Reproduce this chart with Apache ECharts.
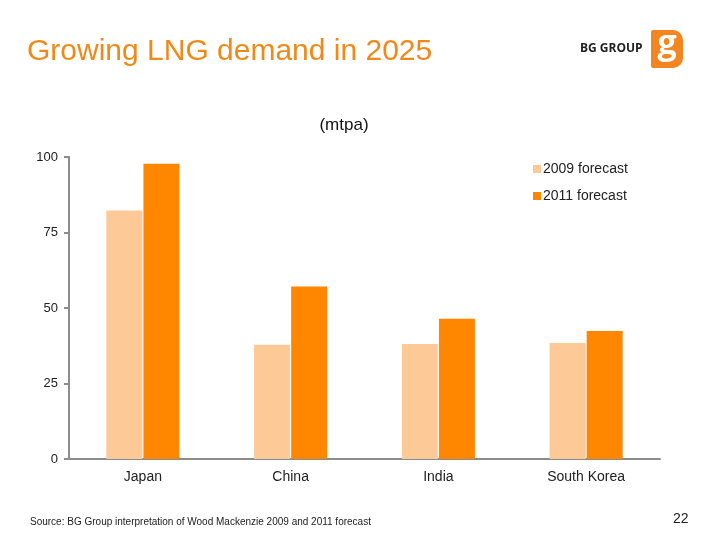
<!DOCTYPE html>
<html>
<head>
<meta charset="utf-8">
<script src="https://cdn.jsdelivr.net/npm/echarts@6/dist/echarts.min.js"></script>
<style>
html,body{margin:0;padding:0;background:#fff;}
#chart{width:720px;height:540px;}
</style>
</head>
<body>
<div id="chart"></div>
<script>
const categories = ['Japan', 'China', 'India', 'South Korea'];
const forecast2009 = [82.3, 37.8, 38.1, 38.4];
const forecast2011 = [97.8, 57.1, 46.4, 42.4];
const seriesNames = ['2009 forecast', '2011 forecast'];
const yTicks = [0, 25, 50, 75, 100];

const FONT = '"Liberation Sans", Arial, sans-serif';
const chart = echarts.init(document.getElementById('chart'));
chart.setOption({
  animation: false,
  backgroundColor: '#fff',
  textStyle: { fontFamily: FONT },
  grid: { left: 69, right: 60, top: 157, bottom: 81, containLabel: false },
  legend: {
    orient: 'vertical',
    left: 528,
    top: 157,
    itemWidth: 8,
    itemHeight: 8,
    itemGap: 13,
    icon: 'rect',
    textStyle: { fontFamily: FONT, fontSize: 14, color: '#222', padding: [0, 0, 0, -3] },
    data: seriesNames
  },
  xAxis: {
    type: 'category',
    data: categories,
    axisLine: { lineStyle: { color: '#8c8c8c', width: 2 } },
    axisTick: { show: false },
    axisLabel: { fontFamily: FONT, fontSize: 14, color: '#222', margin: 11 }
  },
  yAxis: {
    type: 'value',
    min: yTicks[0],
    max: yTicks[yTicks.length - 1],
    interval: 25,
    splitLine: { show: false },
    axisLine: { show: true, lineStyle: { color: '#8c8c8c', width: 2 } },
    axisTick: { show: true, length: 5, lineStyle: { color: '#8c8c8c', width: 2 } },
    axisLabel: { fontFamily: FONT, fontSize: 13, color: '#222', margin: 11 }
  },
  series: [
    {
      name: seriesNames[0],
      type: 'bar',
      data: forecast2009,
      barWidth: 36,
      barGap: '3%',
      itemStyle: { color: '#FDC997' }
    },
    {
      name: seriesNames[1],
      type: 'bar',
      data: forecast2011,
      barWidth: 36,
      itemStyle: { color: '#FF8700' }
    }
  ],
  graphic: [
    { type: 'text', x: 27, y: 52, style: { text: 'Growing LNG demand in 2025', font: '30px ' + FONT, fill: '#EF8A18', verticalAlign: 'middle' } },
    { type: 'text', x: 344, y: 125, style: { text: '(mtpa)', font: '17px ' + FONT, fill: '#111', align: 'center', verticalAlign: 'middle' } },
    { type: 'text', x: 580, y: 49, style: { text: 'BG GROUP', font: 'bold 12px "Open Sans", ' + FONT, fill: '#222', verticalAlign: 'middle' } },
    { type: 'rect', shape: { x: 651, y: 30, width: 32, height: 38, r: [2, 10, 10, 2] }, style: { fill: '#F5861F' } },
    { type: 'text', x: 667, y: 44, style: { text: 'g', font: 'bold 34px "Open Sans", ' + FONT, fill: '#fff', align: 'center', verticalAlign: 'middle' } },
    { type: 'text', x: 30, y: 522, style: { text: 'Source: BG Group interpretation of Wood Mackenzie 2009 and 2011 forecast', font: '10px ' + FONT, fill: '#222', verticalAlign: 'middle' } },
    { type: 'text', x: 673, y: 519, style: { text: '22', font: '14px ' + FONT, fill: '#222', verticalAlign: 'middle' } }
  ]
});
</script>
</body>
</html>
